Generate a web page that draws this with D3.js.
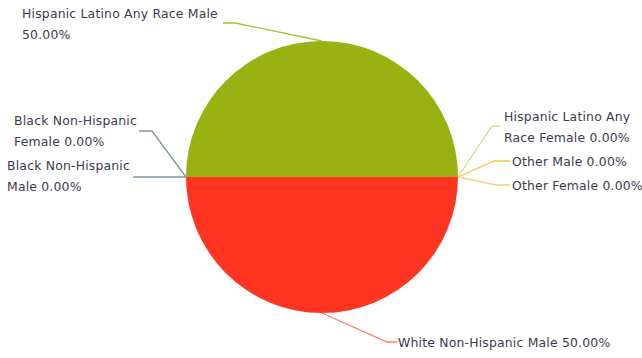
<!DOCTYPE html>
<html>
<head>
<meta charset="utf-8">
<script src="https://cdn.jsdelivr.net/npm/d3@7"></script>
<style>
  html, body { margin: 0; padding: 0; background: #fff; }
  svg { display: block; }
  .lbl { font-family: "DejaVu Sans", sans-serif; font-size: 12.4px; letter-spacing: 0.2px; fill: #3b3b4f; }
</style>
</head>
<body>
<svg id="chart" width="642" height="358"></svg>
<script>
// Population breakdown by ethnicity and sex (percent)
const categories = [
  "Hispanic Latino Any Race Male",
  "Hispanic Latino Any Race Female",
  "Other Male",
  "Other Female",
  "White Non-Hispanic Male",
  "Black Non-Hispanic Male",
  "Black Non-Hispanic Female"
];
const values = [50, 0, 0, 0, 50, 0, 0];
const sliceColors = ["#9ab112", "#d3e183", "#f7c24a", "#f7c24a", "#ff3522", "#7e94ab", "#7e94ab"];
const lineColors  = ["#a9c038", "#d3e183", "#f7c24a", "#f9cf78", "#ff7b6c", "#7e94ab", "#7e94ab"];

// Label text lines, split the way they wrap
const labelLines = [
  ["Hispanic Latino Any Race Male", "50.00%"],
  ["Hispanic Latino Any", "Race Female 0.00%"],
  ["Other Male 0.00%"],
  ["Other Female 0.00%"],
  ["White Non-Hispanic Male 50.00%"],
  ["Black Non-Hispanic", "Male 0.00%"],
  ["Black Non-Hispanic", "Female 0.00%"]
];

// Label placement: elbow of the connector, end of its horizontal run,
// text anchor x and first baseline
const labelLayout = [
  { ex: 235, ey: 23,  hx: 223, tx: 22,  ty: 18,  anchor: "start" },
  { ex: 492, ey: 126, hx: 500, tx: 504, ty: 121, anchor: "start" },
  { ex: 494, ey: 161, hx: 510, tx: 512, ty: 166, anchor: "start" },
  { ex: 496, ey: 185, hx: 510, tx: 512, ty: 190, anchor: "start" },
  { ex: 387, ey: 342, hx: 397, tx: 398, ty: 347, anchor: "start" },
  { ex: 160, ey: 177, hx: 133, tx: 7,   ty: 170, anchor: "start" },
  { ex: 152, ey: 131, hx: 139, tx: 14,  ty: 125, anchor: "start" }
];

const svg = d3.select("#chart");
const cx = 322, cy = 177, radius = 136;

const pie = d3.pie()
  .sort(null)
  .value(d => d)
  .startAngle(-Math.PI / 2)
  .endAngle(Math.PI * 1.5);

const arcs = pie(values);
const arc = d3.arc().innerRadius(0).outerRadius(radius);

const g = svg.append("g").attr("transform", `translate(${cx},${cy})`);

g.selectAll("path.slice")
  .data(arcs)
  .join("path")
  .attr("class", "slice")
  .attr("d", arc)
  .attr("fill", (d, i) => sliceColors[i]);

// Connectors from each slice's outer mid point to its label
const line = d3.line();
svg.selectAll("path.conn")
  .data(arcs)
  .join("path")
  .attr("class", "conn")
  .attr("fill", "none")
  .attr("stroke", (d, i) => lineColors[i])
  .attr("stroke-width", 1.3)
  .attr("d", (d, i) => {
    const a = (d.startAngle + d.endAngle) / 2;
    const sx = cx + Math.sin(a) * radius;
    const sy = cy - Math.cos(a) * radius;
    const L = labelLayout[i];
    return line([[sx, sy], [L.ex, L.ey], [L.hx, L.ey]]);
  });

// Labels
const labels = svg.selectAll("text.lbl")
  .data(arcs)
  .join("text")
  .attr("class", "lbl")
  .attr("text-anchor", (d, i) => labelLayout[i].anchor);

labels.each(function(d, i) {
  const L = labelLayout[i];
  d3.select(this).selectAll("tspan")
    .data(labelLines[i])
    .join("tspan")
    .attr("x", L.tx)
    .attr("y", (t, k) => L.ty + k * 20.5)
    .text(t => t);
});
</script>
</body>
</html>
